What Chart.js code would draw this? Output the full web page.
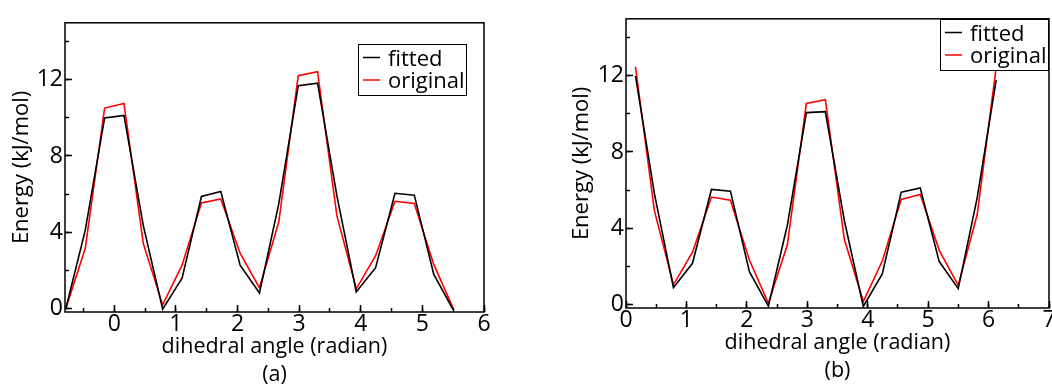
<!DOCTYPE html>
<html>
<head>
<meta charset="utf-8">
<script src="https://cdn.jsdelivr.net/npm/chart.js@4.4.1/dist/chart.umd.min.js"></script>
<style>
  html, body { margin: 0; padding: 0; background: #fff; overflow: hidden; width: 1052px; height: 385px; }
  .panel { position: absolute; }
  #panelA { left: 0; top: 0; }
  #panelB { left: 560px; top: -4px; }
  canvas { display: block; }
</style>
</head>
<body>
<div class="panel" id="panelA"><canvas id="chartA" width="530" height="385" style="width:530px;height:385px"></canvas></div>
<div class="panel" id="panelB"><canvas id="chartB" width="530" height="385" style="width:530px;height:385px"></canvas></div>
<script>
// panel (a): dihedral angle in radians, energies in kJ/mol
const angleA = [-0.785, -0.471, -0.157, 0.157, 0.471, 0.785, 1.100, 1.414, 1.728, 2.042, 2.356,
                2.670, 2.985, 3.299, 3.613, 3.927, 4.241, 4.555, 4.869, 5.184, 5.498];
const fittedA = [0, 4.1, 10.0, 10.13, 4.34, -0.05, 1.58, 5.87, 6.14, 2.26, 0.8,
                 5.5, 11.69, 11.83, 5.9, 0.85, 2.13, 6.04, 5.94, 1.79, -0.08];
const originalA = [0, 3.15, 10.52, 10.76, 3.4, 0.17, 2.26, 5.53, 5.74, 2.89, 1.07,
                   4.54, 12.22, 12.43, 4.85, 1.02, 2.76, 5.62, 5.5, 2.3, 0];

// panel (b)
const angleB = [0.157, 0.471, 0.785, 1.100, 1.414, 1.728, 2.042, 2.356, 2.670, 2.985,
                3.299, 3.613, 3.927, 4.241, 4.555, 4.869, 5.184, 5.498, 5.812, 6.126];
const fittedB = [12.0, 5.8, 0.87, 2.15, 6.03, 5.94, 1.71, -0.1, 4.15, 10.07,
                 10.12, 4.4, -0.12, 1.59, 5.89, 6.11, 2.24, 0.82, 5.6, 11.78];
const originalB = [12.48, 4.9, 1.02, 2.73, 5.63, 5.46, 2.32, 0.05, 3.12, 10.55,
                   10.75, 3.41, 0.14, 2.27, 5.51, 5.77, 2.83, 0.99, 4.71, 12.45];

const seriesNames = ['fitted', 'original'];
const seriesColors = ['#000000', '#ff0000'];
const xTitle = 'dihedral angle (radian)';
const yTitle = 'Energy (kJ/mol)';

const FONT = 'Open Sans';

// box round the plot plus the key inside it
const frameAndKey = {
  id: 'frameAndKey',
  afterDatasetsDraw(chart, args, opts) {
    const ctx = chart.ctx;
    const a = chart.chartArea;
    ctx.save();
    ctx.strokeStyle = '#000';
    ctx.lineWidth = 1.5;
    ctx.strokeRect(a.left, a.top, a.right - a.left, a.bottom - a.top);

    const w = 109, h = 52;
    const bx = Math.round(a.right - opts.right - w);
    const by = Math.round(a.top + opts.top);
    ctx.fillStyle = '#fff';
    ctx.fillRect(bx, by, w, h);
    ctx.lineWidth = 1;
    ctx.strokeStyle = '#000';
    ctx.strokeRect(bx + 0.5, by + 0.5, w - 1, h - 1);

    ctx.font = '22px "' + FONT + '"';
    ctx.textBaseline = 'alphabetic';
    chart.data.datasets.forEach((ds, i) => {
      const y = by + 13.5 + i * 22.5;
      ctx.strokeStyle = ds.borderColor;
      ctx.lineWidth = 1.5;
      ctx.beginPath();
      ctx.moveTo(bx + 5, y);
      ctx.lineTo(bx + 22, y);
      ctx.stroke();
      ctx.fillStyle = '#000';
      ctx.fillText(ds.label, bx + 30, y + 8);
    });
    ctx.restore();
  }
};

function makeChart(canvasId, xs, fitted, original, opt) {
  const ctx = document.getElementById(canvasId).getContext('2d');
  const tickFont = {family: FONT, size: 23};
  return new Chart(ctx, {
    type: 'line',
    data: {
      datasets: [
        {label: seriesNames[0], data: xs.map((x, i) => ({x: x, y: fitted[i]})),
         borderColor: seriesColors[0], borderWidth: 1.6, pointRadius: 0, tension: 0, fill: false},
        {label: seriesNames[1], data: xs.map((x, i) => ({x: x, y: original[i]})),
         borderColor: seriesColors[1], borderWidth: 1.6, pointRadius: 0, tension: 0, fill: false}
      ]
    },
    options: {
      responsive: false,
      animation: false,
      devicePixelRatio: 1,
      layout: {padding: {left: 0, top: 15, right: opt.padRight, bottom: 0}},
      plugins: {
        legend: {display: false},
        tooltip: {enabled: false},
        frameAndKey: {right: opt.keyRight, top: opt.keyTop}
      },
      scales: {
        xMinor: {
          type: 'linear', position: 'bottom', weight: 0,
          min: opt.xMin, max: opt.xMax,
          ticks: {display: false, stepSize: 0.5, includeBounds: false},
          grid: {drawOnChartArea: false, tickLength: -4, tickWidth: 1.5, tickColor: '#000'},
          border: {display: false},
          afterFit(s) { s.height = 0; }
        },
        x: {
          type: 'linear', position: 'bottom', weight: 1,
          min: opt.xMin, max: opt.xMax,
          ticks: {stepSize: 1, includeBounds: false, padding: 6, color: '#000', font: tickFont, maxRotation: 0, autoSkip: false},
          grid: {drawOnChartArea: false, tickLength: -7, tickWidth: 1.5, tickColor: '#000'},
          border: {display: false},
          title: {display: true, text: [xTitle, opt.tag], color: '#000',
                  font: {family: FONT, size: 21.5, lineHeight: '28px'},
                  padding: {top: 0, bottom: -4}},
          afterFit(s) { s.height = 73; }
        },
        yMinor: {
          type: 'linear', position: 'left', weight: 0,
          min: -0.2, max: 15,
          ticks: {display: false, stepSize: 2, includeBounds: false},
          grid: {drawOnChartArea: false, tickLength: -4, tickWidth: 1.5, tickColor: '#000'},
          border: {display: false},
          afterFit(s) { s.width = 0; }
        },
        y: {
          type: 'linear', position: 'left', weight: 1,
          min: -0.2, max: 15,
          ticks: {stepSize: 4, includeBounds: false, padding: 9, color: '#000', font: tickFont},
          grid: {drawOnChartArea: false, tickLength: -7, tickWidth: 1.5, tickColor: '#000'},
          border: {display: false},
          title: {display: true, text: yTitle, color: '#000',
                  font: {family: FONT, size: 22}, padding: {top: 9, bottom: 0}},
          afterFit(s) { s.width = opt.yWidth; }
        }
      }
    },
    plugins: [frameAndKey]
  });
}

function drawAll() {
  makeChart('chartA', angleA, fittedA, originalA,
            {xMin: -0.8, xMax: 6, yWidth: 65, padRight: 46, keyRight: 17.5, keyTop: 21, tag: '(a)'});
  makeChart('chartB', angleB, fittedB, originalB,
            {xMin: 0, xMax: 7, yWidth: 66, padRight: 41, keyRight: 0, keyTop: 0, tag: '(b)'});
}

if (document.fonts && document.fonts.load) {
  document.fonts.load('22px "' + FONT + '"').then(drawAll, drawAll);
} else {
  drawAll();
}
</script>
</body>
</html>
